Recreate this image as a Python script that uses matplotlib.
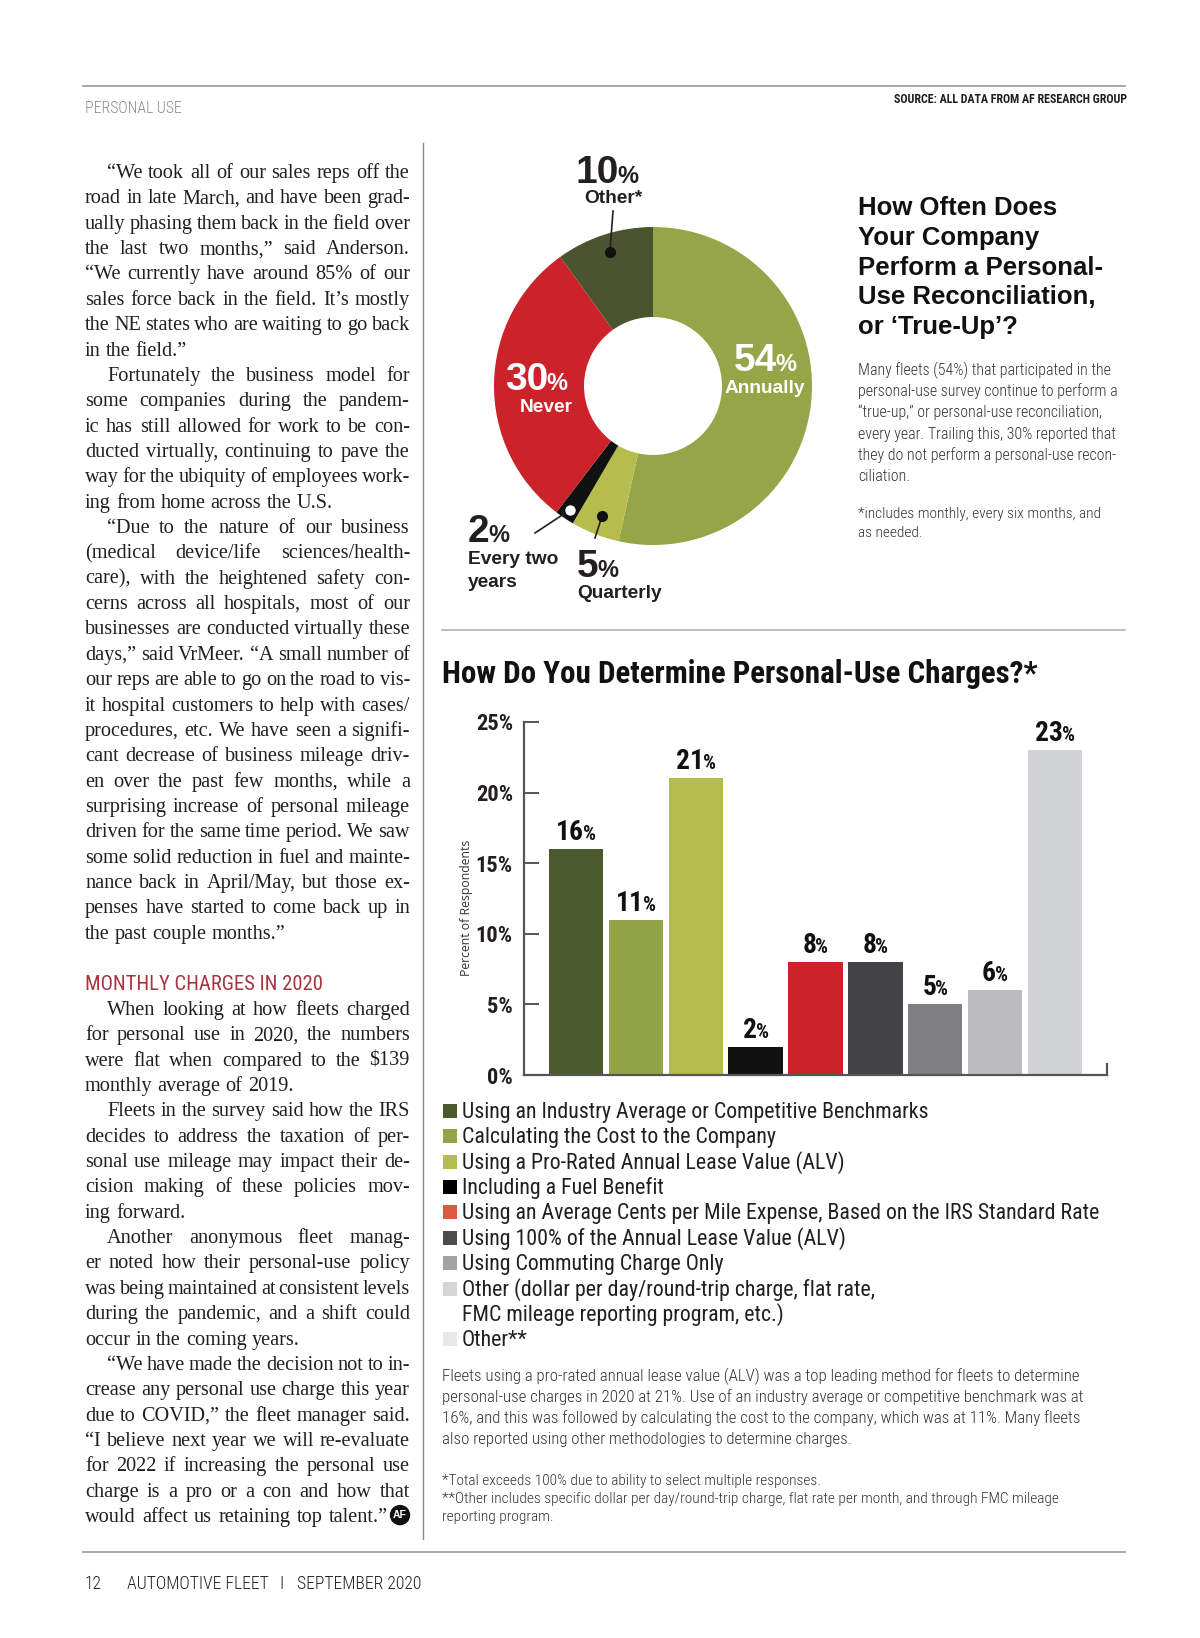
import numpy as np
import matplotlib
matplotlib.use("Agg")
import matplotlib.pyplot as plt
from matplotlib import font_manager as fm
from matplotlib.font_manager import FontProperties
from matplotlib.patches import Rectangle, Circle

W, H = 1200, 1638

# donut: how often is a true-up done
donut_labels = ["Annually", "Quarterly", "Every two years", "Never", "Other*"]
donut_values = [54, 5, 2, 30, 10]
donut_colors = ["#95a548", "#b6bd4c", "#111111", "#cc2229", "#4a5530"]

# bars: how personal-use charges are determined
bar_labels = [
    "Using an Industry Average or Competitive Benchmarks",
    "Calculating the Cost to the Company",
    "Using a Pro-Rated Annual Lease Value (ALV)",
    "Including a Fuel Benefit",
    "Using an Average Cents per Mile Expense, Based on the IRS Standard Rate",
    "Using 100% of the Annual Lease Value (ALV)",
    "Using Commuting Charge Only",
    "Other (dollar per day/round-trip charge, flat rate,\nFMC mileage reporting program, etc.)",
    "Other**",
]
bar_values = [16, 11, 21, 2, 8, 8, 5, 6, 23]
bar_colors = ["#4a5a2e", "#93a347", "#b5bd4c", "#111111", "#cc2229",
              "#434345", "#808082", "#bcbcbe", "#d1d2d4"]
legend_colors = ["#4a5a2e", "#93a347", "#b5bd4c", "#000000", "#dc5a3f",
                 "#4d4d4f", "#a3a3a5", "#d5d5d7", "#e8e8ea"]
y_ticks = [0, 5, 10, 15, 20, 25]

# article column; ">" indent, "|" last line of paragraph, "#" heading
left_text = [
    ">“We took all of our sales reps off the",
    "road in late March, and have been grad-",
    "ually phasing them back in the field over",
    "the last two months,” said Anderson.",
    "“We currently have around 85% of our",
    "sales force back in the field. It’s mostly",
    "the NE states who are waiting to go back",
    "in the field.”|",
    ">Fortunately the business model for",
    "some companies during the pandem-",
    "ic has still allowed for work to be con-",
    "ducted virtually, continuing to pave the",
    "way for the ubiquity of employees work-",
    "ing from home across the U.S.|",
    ">“Due to the nature of our business",
    "(medical device/life sciences/health-",
    "care), with the heightened safety con-",
    "cerns across all hospitals, most of our",
    "businesses are conducted virtually these",
    "days,” said VrMeer. “A small number of",
    "our reps are able to go on the road to vis-",
    "it hospital customers to help with cases/",
    "procedures, etc. We have seen a signifi-",
    "cant decrease of business mileage driv-",
    "en over the past few months, while a",
    "surprising increase of personal mileage",
    "driven for the same time period. We saw",
    "some solid reduction in fuel and mainte-",
    "nance back in April/May, but those ex-",
    "penses have started to come back up in",
    "the past couple months.”|",
    "",
    "#MONTHLY CHARGES IN 2020",
    ">When looking at how fleets charged",
    "for personal use in 2020, the numbers",
    "were flat when compared to the $139",
    "monthly average of 2019.|",
    ">Fleets in the survey said how the IRS",
    "decides to address the taxation of per-",
    "sonal use mileage may impact their de-",
    "cision making of these policies mov-",
    "ing forward.|",
    ">Another anonymous fleet manag-",
    "er noted how their personal-use policy",
    "was being maintained at consistent levels",
    "during the pandemic, and a shift could",
    "occur in the coming years.|",
    ">“We have made the decision not to in-",
    "crease any personal use charge this year",
    "due to COVID,” the fleet manager said.",
    "“I believe next year we will re-evaluate",
    "for 2022 if increasing the personal use",
    "charge is a pro or a con and how that",
    "would affect us retaining top talent.”@",
]

donut_title = ["How Often Does", "Your Company", "Perform a Personal-",
               "Use Reconciliation,", "or ‘True-Up’?"]
donut_text = [
    "Many fleets (54%) that participated in the",
    "personal-use survey continue to perform a",
    "“true-up,” or personal-use reconciliation,",
    "every year. Trailing this, 30% reported that",
    "they do not perform a personal-use recon-",
    "ciliation.",
]
donut_note = ["*includes monthly, every six months, and", "as needed."]

bar_title = "How Do You Determine Personal-Use Charges?*"
bar_text = [
    "Fleets using a pro-rated annual lease value (ALV) was a top leading method for fleets to determine",
    "personal-use charges in 2020 at 21%. Use of an industry average or competitive benchmark was at",
    "16%, and this was followed by calculating the cost to the company, which was at 11%. Many fleets",
    "also reported using other methodologies to determine charges.",
]
bar_notes = [
    "*Total exceeds 100% due to ability to select multiple responses.",
    "**Other includes specific dollar per day/round-trip charge, flat rate per month, and through FMC mileage",
    "reporting program.",
]

# fonts
names = {f.name for f in fm.fontManager.ttflist}


def pick(*cands):
    for c in cands:
        if c in names:
            return c
    return "DejaVu Sans"


SERIF = pick("Liberation Serif", "DejaVu Serif")
SANS = pick("Liberation Sans", "Arial", "DejaVu Sans")
NARROW = pick("Liberation Sans Narrow", "Roboto Condensed", "Open Sans Condensed", "Liberation Sans")
HUMAN = pick("Open Sans", "Noto Sans", SANS)
INK = "#231f20"

fig = plt.figure(figsize=(W / 100, H / 100), dpi=100)
R = fig.canvas.get_renderer()


def fp(size, family, weight="normal"):
    return FontProperties(family=family, size=size, weight=weight)


def tw(s, prop):
    return R.get_text_width_height_descent(s, prop, ismath=False)[0]


def fit(s, width, family, weight="normal"):
    return 10 * width / tw(s, fp(10, family, weight))


# ---- donut chart
cx, cy, ro, ri = 653, 386, 159, 69
ax_d = fig.add_axes([(cx - ro) / W, (H - cy - ro) / H, 2 * ro / W, 2 * ro / H])
wedges, _ = ax_d.pie(donut_values, colors=donut_colors, startangle=90, counterclock=False,
                     radius=1, wedgeprops=dict(width=1 - ri / ro, linewidth=0))
ax_d.set_xlim(-1, 1)
ax_d.set_ylim(-1, 1)
ax_d.set_aspect("auto")
ax_d.axis("off")

# ---- bar chart
bx0, bx1, by0, by1 = 524, 1107, 1075, 722
ax = fig.add_axes([bx0 / W, (H - by0) / H, (bx1 - bx0) / W, (by0 - by1) / H])
x = np.arange(len(bar_values))
ax.bar(x, bar_values, width=0.91, color=bar_colors, zorder=2)
ax.set_xlim(-0.87, len(bar_values) - 0.13)
ax.set_ylim(0, 25)
ax.set_xticks([])
ax.set_yticks(y_ticks)
ax.set_yticklabels([f"{t}%" for t in y_ticks])
ax.spines["top"].set_visible(False)
for s in ["left", "bottom", "right"]:
    ax.spines[s].set_color("#555555")
    ax.spines[s].set_linewidth(1.6)
ax.spines["right"].set_bounds(0, 0.75)
ax.tick_params(axis="y", direction="in", length=11, width=1.4, color="#555555", pad=8)
tick_size = fit("25%", 37, NARROW, "bold")
for lbl in ax.get_yticklabels():
    lbl.set_fontproperties(fp(tick_size, NARROW, "bold"))
    lbl.set_color(INK)
ax.set_ylabel("Percent of Respondents", fontproperties=fp(fit("Percent of Respondents", 136, HUMAN), HUMAN),
              color="#333333")
ax.yaxis.set_label_coords((473 - bx0) / (bx1 - bx0), (by0 - 908) / (by0 - by1))

# ---- page layer for all the text, in pixel coordinates
page = fig.add_axes([0, 0, 1, 1], zorder=10)
page.set_xlim(0, W)
page.set_ylim(H, 0)
page.axis("off")


def put(x, y, s, prop, color=INK, ha="left"):
    page.text(x, y, s, fontproperties=prop, color=color, ha=ha, va="baseline")


def num_pct(x, y, num, big, small, color=INK, ha="center", kern=-1.5):
    w1 = tw(num, big)
    w2 = tw("%", small)
    if ha == "center":
        x0 = x - (w1 + w2 + kern) / 2
    elif ha == "left":
        x0 = x
    else:
        x0 = x - w1 - w2 - kern
    put(x0, y, num, big, color)
    put(x0 + w1 + kern, y, "%", small, color)


def justify(x0, x1, y, line, prop, color=INK, just=True):
    words = line.split()
    ws = [tw(w, prop) for w in words]
    space = tw("a a", prop) - tw("aa", prop)
    gap = (x1 - x0 - sum(ws)) / (len(words) - 1) if just and len(words) > 1 else space
    xx = x0
    for w, wd in zip(words, ws):
        put(xx, y, w, prop, color)
        xx += wd + gap
    return xx - gap


# rules
page.plot([83, 1125], [86, 86], color="#a0a0a0", lw=1.3)
page.plot([83, 1125], [1552, 1552], color="#a0a0a0", lw=1.3)
page.plot([423, 423], [143, 1539], color="#8a8a8a", lw=1.0)
page.plot([442, 1125], [630, 630], color="#b0b0b0", lw=1.2)

# header / footer
put(85, 113, "PERSONAL USE", fp(fit("PERSONAL USE", 96, NARROW, "light"), NARROW, "light"), color="#8c8c8c")
src = "SOURCE: ALL DATA FROM AF RESEARCH GROUP"
put(1127, 103, src, fp(fit(src, 235, NARROW, "bold"), NARROW, "bold"), ha="right")
foot = fp(fit("AUTOMOTIVE FLEET", 141, NARROW, "light"), NARROW, "light")
put(85, 1589, "12", foot)
put(127, 1589, "AUTOMOTIVE FLEET", foot)
put(279, 1589, "I", foot)
put(297, 1589, "SEPTEMBER 2020", foot)

# article column, justified (allow word gaps down to ~60% of a space)
lx0, lx1, indent = 85, 410, 22
lb0, lstep = 178, 25.36
need = []
p10 = fp(10, SERIF)
sp10 = tw("a a", p10) - tw("aa", p10)
for line in left_text:
    if line and line[0] not in "#" and line[-1] not in "|@":
        words = line.lstrip(">").split()
        nat = sum(tw(w, p10) for w in words) + 0.6 * sp10 * (len(words) - 1)
        avail = lx1 - lx0 - (indent if line.startswith(">") else 0)
        need.append(10 * avail / nat)
serif = fp(min(min(need), 15.4), SERIF)
head = fp(fit("MONTHLY CHARGES IN 2020", 238, NARROW), NARROW)
for k, line in enumerate(left_text):
    y = lb0 + k * lstep
    if not line:
        continue
    if line.startswith("#"):
        put(lx0, y, line[1:], head, color="#a8323f")
        continue
    xs = lx0 + (indent if line.startswith(">") else 0)
    body = line.lstrip(">")
    if body.endswith("|"):
        justify(xs, lx1, y, body[:-1], serif, just=False)
    elif body.endswith("@"):
        justify(xs, lx1 - 22, y, body[:-1], serif)
        page.add_patch(Circle((lx1 - 10, y - 7), 9.5, color="#111111", zorder=11))
        page.text(lx1 - 10, y - 7, "AF", color="white", ha="center", va="center",
                  fontproperties=fp(7.5, SANS, "bold"), zorder=12)
    else:
        justify(xs, lx1, y, body, serif)

# donut labels
big = fp(28, SANS, "bold")
small = fp(17, SANS, "bold")
word = fp(13.8, SANS, "bold")


def on_ring(i, f):
    w = wedges[i]
    a = np.deg2rad((w.theta1 + w.theta2) / 2)
    return cx + ro * f * np.cos(a), cy - ro * f * np.sin(a)


def pct_str(i):
    return str(donut_values[i])


# Other
num_pct(607, 183, pct_str(4), big, small)
put(613, 203, "Other*", word, ha="center")
dx, dy = on_ring(4, 0.885)
page.plot([613, dx], [211, dy], color=INK, lw=1.2)
page.plot(dx, dy, "o", ms=7, color="#111111")
# Annually
num_pct(765, 371, pct_str(0), big, small, color="white")
put(765, 393, "Annually", word, color="white", ha="center")
# Never
num_pct(536, 390, pct_str(3), big, small, color="white")
put(546, 412, "Never", word, color="white", ha="center")
# Every two years
num_pct(468, 542, pct_str(2), big, small, ha="left")
put(468, 564, "Every two", word)
put(468, 587, "years", word)
dx, dy = on_ring(2, 0.94)
page.plot([535, dx], [533, dy], color=INK, lw=1.2)
page.plot(dx, dy, "o", ms=9, mfc="white", mec="#111111", mew=1.5)
# Quarterly
num_pct(577, 577, pct_str(1), big, small, ha="left")
put(577, 598, "Quarterly", word)
dx, dy = on_ring(1, 0.88)
page.plot([595, dx], [538, dy], color=INK, lw=1.2)
page.plot(dx, dy, "o", ms=7, color="#111111")

# donut side text
tprop = fp(fit("Perform a Personal-", 244, SANS, "bold"), SANS, "bold")
for k, line in enumerate(donut_title):
    put(858, 215 + k * 29.8, line, tprop, color="#111111")
pprop = fp(fit(donut_text[3], 257, NARROW, "light"), NARROW, "light")
for k, line in enumerate(donut_text):
    put(858, 375 + k * 21.2, line, pprop, color="#333333")
nprop = fp(fit(donut_note[0], 244, NARROW, "light"), NARROW, "light")
for k, line in enumerate(donut_note):
    put(858, 518 + k * 19, line, nprop, color="#333333")

# bar chart title and value labels
put(442, 683, bar_title, fp(fit(bar_title, 596, NARROW, "bold"), NARROW, "bold"), color="#111111")
vbig = fp(fit("16", 28, NARROW, "bold"), NARROW, "bold")
vsmall = fp(fit("%", 13, NARROW, "bold"), NARROW, "bold")
for i, v in enumerate(bar_values):
    X, Y = ax.transData.transform((x[i], v))
    num_pct(X, H - Y - 9, str(v), vbig, vsmall, color="#111111", kern=-1)

# legend
lgprop = fp(fit(bar_labels[4], 636, NARROW), NARROW)
slot = 0
for lab, col in zip(bar_labels, legend_colors):
    yb = 1118 + slot * 25.36
    page.add_patch(Rectangle((443, yb - 14), 14, 14, color=col, lw=0))
    for part in lab.split("\n"):
        put(462, 1118 + slot * 25.36, part, lgprop)
        slot += 1

# notes under the bar chart
bprop = fp(fit(bar_text[2], 637, NARROW, "light"), NARROW, "light")
for k, line in enumerate(bar_text):
    put(442, 1381 + k * 20.9, line, bprop, color="#333333")
fprop = fp(fit(bar_notes[1], 616, NARROW, "light"), NARROW, "light")
for k, line in enumerate(bar_notes):
    put(442, 1485 + k * 18.2, line, fprop, color="#333333")

fig.savefig("out.png", dpi=100, facecolor="white")
